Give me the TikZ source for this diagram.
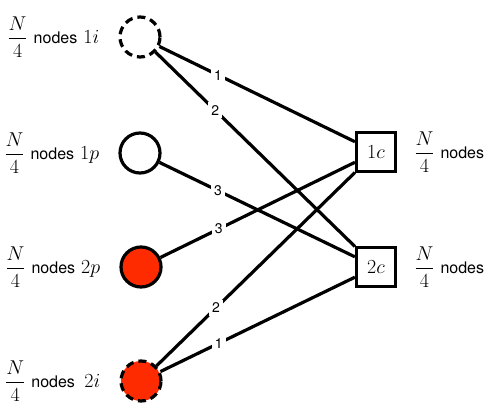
\RequirePackage{fix-cm}
\documentclass[tikz,border=0pt]{standalone}
\usepackage{amsmath}
\usepackage{fontspec}
\setsansfont{TeX Gyre Heros}
\usetikzlibrary{positioning}
\definecolor{peerred}{RGB}{255,43,0}

\newcommand{\nodesword}{{\sffamily\fontsize{16}{19}\selectfont nodes}}

\begin{document}
\begin{tikzpicture}[x=1pt, y=-1pt,
                    every node/.style = {font=\fontsize{20}{24}\selectfont},
                    peer/.style = {shape=circle, draw, line width=3.2pt, minimum size=40pt, inner sep=0pt},
                    idle/.style = {dash pattern=on 8pt off 5pt},
                    hub/.style = {shape=rectangle, draw, line width=3.2pt, minimum size=39pt, inner sep=0pt},
                    link/.style = {line width=3.2pt},
                    weight/.style = {fill=white, inner sep=3pt, pos=0.3, font=\sffamily\fontsize{14}{16}\selectfont},
                    count/.style = {inner sep=0pt}]

  \useasboundingbox (0,0) rectangle (498,415);

  % peers on the left
  \node[peer, idle] (c1i) at (140,37) {};
  \node[peer] (c1p) at (140,153) {};
  \node[peer, fill=peerred] (c2p) at (141,267) {};
  \node[peer, idle, fill=peerred] (c2i) at (141,381) {};

  % hubs on the right
  \node[hub] (h1c) at (376,152) {$1c$};
  \node[hub] (h2c) at (376,267) {$2c$};

  % group sizes
  \node[count, left=19pt of c1i] {$\dfrac{N}{4}$ \nodesword{} $1i$};
  \node[count, left=19pt of c1p] {$\dfrac{N}{4}$ \nodesword{} $1p$};
  \node[count, left=19pt of c2p] {$\dfrac{N}{4}$ \nodesword{} $2p$};
  \node[count, left=19pt of c2i] {$\dfrac{N}{4}$ \nodesword{} \,$2i$};
  \node[count, right=17pt of h1c] {$\dfrac{N}{4}$ \nodesword};
  \node[count, right=17pt of h2c] {$\dfrac{N}{4}$ \nodesword};

  % links
  \draw[link] (c1i) -- node[weight] {1} (h1c);
  \draw[link] (c1i) -- node[weight] {2} (h2c);
  \draw[link] (c1p) -- node[weight] {3} (h2c);
  \draw[link] (c2p) -- node[weight] {3} (h1c);
  \draw[link] (c2i) -- node[weight] {2} (h1c);
  \draw[link] (c2i) -- node[weight] {1} (h2c);
\end{tikzpicture}
\end{document}
